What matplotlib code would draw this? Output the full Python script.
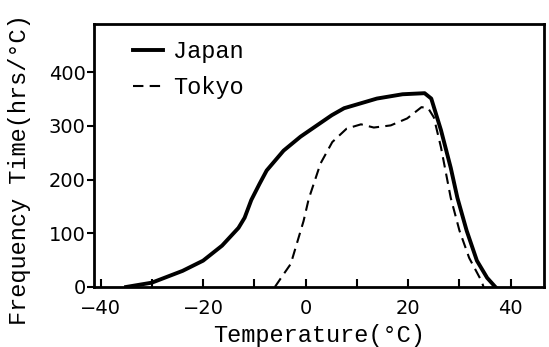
import numpy as np
import matplotlib
matplotlib.use("Agg")
import matplotlib.pyplot as plt

# values
japan_t = [-35, -30, -24, -20, -16.3, -13.1, -11.9, -10.6, -9.0, -7.6, -4.3,
           -1.0, 2.2, 5.1, 7.5, 13.9, 18.9, 23.2, 24.5, 26.4, 28.3,
           29.6, 31.4, 33.4, 35.4, 37]
japan_f = [0, 8, 30, 49, 77, 110, 129, 162, 192, 217, 254,
           280, 301, 320, 333, 351, 359, 361, 351, 292, 222,
           166, 105, 49, 17, 0]

tokyo_t = [-6, -4.5, -2.9, -0.4, 0.6, 2.9, 5.2, 8.0, 10.8, 13.3, 16.6, 19.8,
           22.6, 23.9, 25, 26.4, 28.3, 30, 31.9, 34.3, 34.7]
tokyo_f = [0, 21, 43, 123, 164, 230, 270, 295, 303, 297, 301, 314,
           335, 333, 316, 260, 166, 105, 54, 11, 0]

x_ticks = [-40, -30, -20, -10, 0, 10, 20, 30, 40]
x_labels = ['\u221240', '', '\u221220', '', '0', '', '20', '', '40']
y_ticks = [0, 100, 200, 300, 400]

mono = 'Liberation Mono'

fig = plt.figure(figsize=(5.49, 3.47), dpi=100)
ax = fig.add_axes([0.171, 0.173, 0.820, 0.758])

ax.plot(japan_t, japan_f, color='black', linewidth=2.8, solid_joinstyle='round',
        label='Japan')
ax.plot(tokyo_t, tokyo_f, color='black', linewidth=1.5, linestyle=(0, (5, 3)),
        label='Tokyo')

ax.set_xlim(-41.3, 46.5)
ax.set_ylim(0, 490)

ax.set_xticks(x_ticks)
ax.set_xticklabels(x_labels)
ax.set_yticks(y_ticks)
ax.tick_params(axis='x', direction='in', length=6, width=1.5, pad=9,
               labelsize=14)
ax.tick_params(axis='y', direction='out', length=5, width=1.5, pad=1,
               labelsize=14)

for s in ax.spines.values():
    s.set_linewidth(2)

ax.set_xlabel('Temperature(\u00b0C)', fontsize=17, family=mono)
ax.xaxis.set_label_coords(0.5, -0.14)
ax.set_ylabel('Frequency Time(hrs/\u00b0C)', fontsize=17, family=mono)
ax.yaxis.set_label_coords(-0.14, 0.445)

ax.legend(loc='upper left', bbox_to_anchor=(0.065, 0.975), frameon=False,
          prop={'family': mono, 'size': 17}, handlelength=1.3,
          handletextpad=0.4, labelspacing=0.55, borderaxespad=0)

fig.savefig('out.png', dpi=100)
